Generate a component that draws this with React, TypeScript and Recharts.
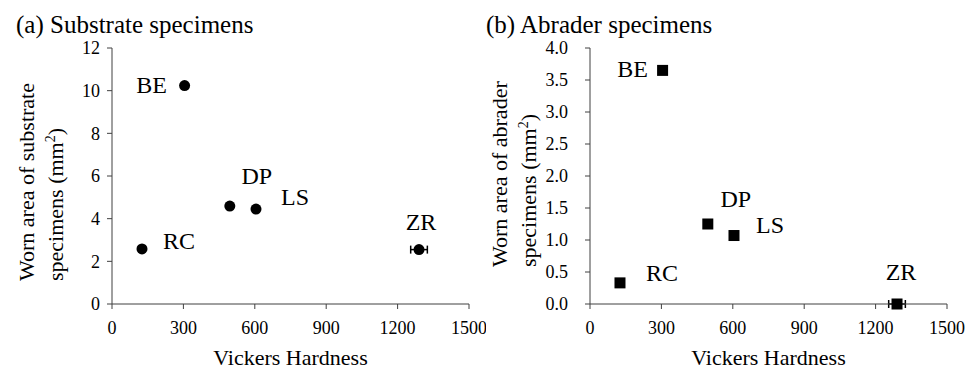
import React from "react";
import { ScatterChart, Scatter, XAxis, YAxis, ErrorBar } from "recharts";

const materials = ["BE", "RC", "DP", "LS", "ZR"];
const hardness = [305, 126, 495, 605, 1290];
const hardnessErr = [0, 0, 0, 0, 35];
const substrateArea = [10.24, 2.58, 4.59, 4.45, 2.55];
const abraderArea = [3.65, 0.33, 1.25, 1.07, 0.0];
const xTicks = [0, 300, 600, 900, 1200, 1500];
const substrateTicks = [0, 2, 4, 6, 8, 10, 12];
const abraderTicks = [0, 0.5, 1, 1.5, 2, 2.5, 3, 3.5, 4];

// label offsets from the marker centre (px)
const substrateLabelPos: Record<string, [number, number]> = {
  BE: [-33, -1], RC: [37, -8], DP: [27, -30], LS: [39, -12], ZR: [2, -28],
};
const abraderLabelPos: Record<string, [number, number]> = {
  BE: [-30, -1], RC: [42, -10], DP: [28, -25], LS: [36, -11], ZR: [4, -32],
};

const FONT = "Liberation Serif";

const substrateData = materials.map((name, i) => ({ name, x: hardness[i], y: substrateArea[i], err: hardnessErr[i] }));
const abraderData = materials.map((name, i) => ({ name, x: hardness[i], y: abraderArea[i], err: hardnessErr[i] }));

function makeShape(kind: "circle" | "square", pos: Record<string, [number, number]>) {
  return (props: any) => {
    const { cx, cy, payload } = props;
    const [dx, dy] = pos[payload.name] || [0, 0];
    return (
      <g>
        {kind === "circle" ? (
          <circle cx={cx} cy={cy} r={5.5} fill="#000" />
        ) : (
          <rect x={cx - 5.5} y={cy - 5.5} width={11} height={11} fill="#000" />
        )}
        <text x={cx + dx} y={cy + dy + 8} textAnchor="middle" style={{ fontFamily: FONT }} fontSize={24} fill="#000">
          {payload.name}
        </text>
      </g>
    );
  };
}

const tickStyle = { fontFamily: FONT, fontSize: 18, fill: "#000" };
const axisStroke = "#404040";

function Panel(props: {
  title: string;
  titleX: number;
  yLine1: string;
  data: any[];
  ticks: number[];
  domain: [number, number];
  fmt: (v: number) => string;
  shape: any;
  yWidth: number;
  yMargin: number;
  rightMargin: number;
  line1X: number;
  line2X: number;
  labelBottom: number;
}) {
  const txt = { fontFamily: FONT };
  return (
    <div style={{ position: "relative", width: 486, height: 369, fontFamily: FONT }}>
      <ScatterChart width={486} height={369} margin={{ top: 48, right: props.rightMargin, bottom: 0, left: 0 }}>
        <XAxis
          type="number"
          dataKey="x"
          domain={[0, 1500]}
          ticks={xTicks}
          tick={tickStyle}
          tickSize={5}
          tickMargin={12}
          stroke={axisStroke}
          height={65}
          interval={0}
        />
        <YAxis
          type="number"
          dataKey="y"
          domain={props.domain}
          ticks={props.ticks}
          tick={tickStyle}
          tickFormatter={props.fmt}
          tickSize={5}
          tickMargin={props.yMargin}
          width={props.yWidth}
          stroke={axisStroke}
          interval={0}
        />
        <Scatter data={props.data} shape={props.shape} isAnimationActive={false}>
          <ErrorBar dataKey="err" direction="x" width={4} stroke="#000" strokeWidth={1.5} />
        </Scatter>
      </ScatterChart>
      <svg width={486} height={369} style={{ position: "absolute", left: 0, top: 0, pointerEvents: "none" }}>
        <text x={props.titleX} y={33} style={txt} fontSize={25} fill="#000">
          {props.title}
        </text>
        <text x={props.yWidth + (486 - props.yWidth - props.rightMargin) / 2} y={365} textAnchor="middle" style={txt} fontSize={22} fill="#000">
          Vickers Hardness
        </text>
        <text transform={`translate(${props.line1X},${props.labelBottom}) rotate(-90)`} style={txt} fontSize={22} fill="#000">
          {props.yLine1}
        </text>
        <text transform={`translate(${props.line2X},${props.labelBottom}) rotate(-90)`} style={txt} fontSize={22} fill="#000">
          specimens (mm<tspan fontSize={14} dy={-8}>2</tspan>
          <tspan dy={8}>)</tspan>
        </text>
      </svg>
    </div>
  );
}

export default function App() {
  return (
    <div style={{ position: "absolute", left: 0, top: 0, width: 972, height: 369, display: "flex", background: "#fff" }}>
      <Panel
        title="(a) Substrate specimens"
        titleX={16}
        yLine1="Worn area of substrate"
        data={substrateData}
        ticks={substrateTicks}
        domain={[0, 12]}
        fmt={(v) => String(v)}
        shape={makeShape("circle", substrateLabelPos)}
        yWidth={112}
        yMargin={7}
        rightMargin={17}
        line1X={34}
        line2X={63}
        labelBottom={281}
      />
      <Panel
        title="(b) Abrader specimens"
        titleX={0}
        yLine1="Worn area of abrader"
        data={abraderData}
        ticks={abraderTicks}
        domain={[0, 4]}
        fmt={(v) => v.toFixed(1)}
        shape={makeShape("square", abraderLabelPos)}
        yWidth={104}
        yMargin={17}
        rightMargin={25}
        line1X={21}
        line2X={50}
        labelBottom={267}
      />
    </div>
  );
}
